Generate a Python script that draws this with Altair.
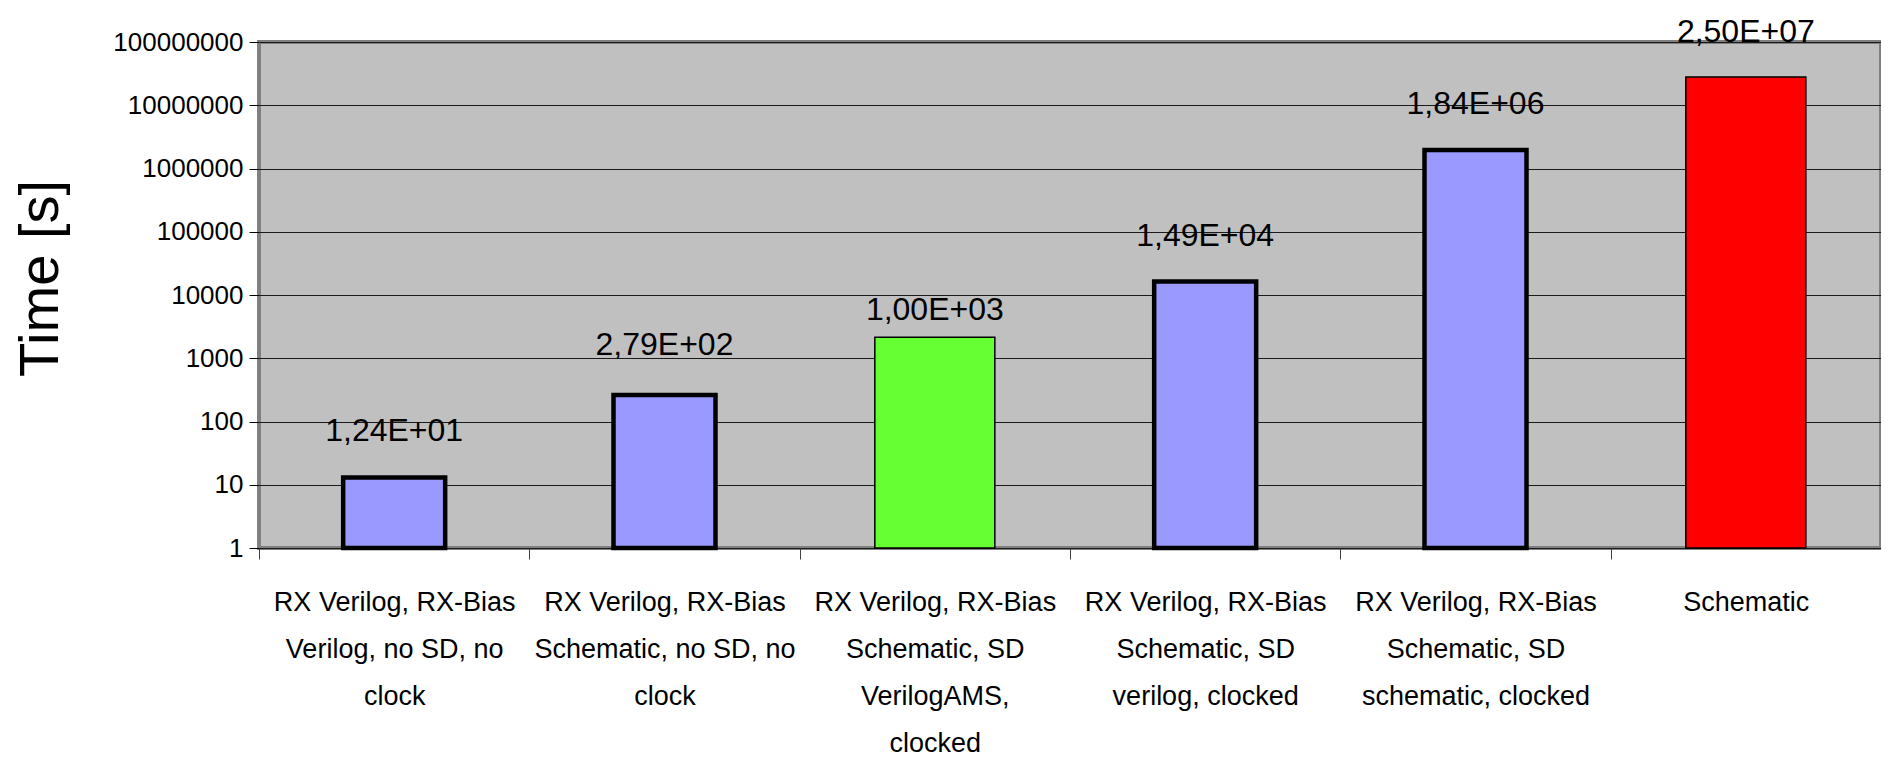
import altair as alt
import pandas as pd

categories = [
    "RX Verilog, RX-Bias|Verilog, no SD, no|clock",
    "RX Verilog, RX-Bias|Schematic, no SD, no|clock",
    "RX Verilog, RX-Bias|Schematic, SD|VerilogAMS,|clocked",
    "RX Verilog, RX-Bias|Schematic, SD|verilog, clocked",
    "RX Verilog, RX-Bias|Schematic, SD|schematic, clocked",
    "Schematic",
]
bar_times = [13, 263, 2140, 16400, 1.97e6, 2.8e7]
label_values = [12.4, 279, 1000, 14900, 1.84e6, 2.5e7]
label_texts = ["1,24E+01", "2,79E+02", "1,00E+03", "1,49E+04", "1,84E+06", "2,50E+07"]
kinds = ["Mixed", "Mixed", "VerilogAMS", "Mixed", "Mixed", "Schematic"]
y_ticks = [1, 10, 100, 1000, 10000, 100000, 1000000, 10000000, 100000000]

df = pd.DataFrame({
    "category": categories,
    "time": bar_times,
    "label_value": label_values,
    "label": label_texts,
    "kind": kinds,
})

FONT = "Liberation Sans"

x_enc = alt.X(
    "category:N",
    sort=categories,
    scale=alt.Scale(paddingInner=0, paddingOuter=0),
    axis=alt.Axis(
        title=None,
        labelExpr="split(datum.label, '|')",
        labelAngle=0,
        tickBand="extent",
        tickSize=11,
        tickColor="#404040",
        labelPadding=30,
        labelLineHeight=47,
        labelFontSize=27,
        labelFont=FONT,
        labelColor="black",
        labelBaseline="top",
        labelLimit=0,
        domain=False,
        grid=False,
    ),
)

y_scale = alt.Scale(type="log", domain=[1, 1e8], nice=False)

y_axis = alt.Axis(
    values=y_ticks,
    format="d",
    title="Time [s]",
    grid=True,
    gridColor="#1a1a1a",
    gridWidth=1,
    gridOpacity=1,
    tickSize=10,
    tickColor="black",
    labelFontSize=26,
    labelFont=FONT,
    labelColor="black",
    labelPadding=6,
    domain=False,
    titleFontSize=56,
    titleFont=FONT,
    titleFontWeight="normal",
    titleColor="black",
    titleAngle=270,
    titleBaseline="top",
    titleAlign="center",
    titleX=-246,
    titleY=236,
)

color_enc = alt.Color(
    "kind:N",
    scale=alt.Scale(domain=["Mixed", "VerilogAMS", "Schematic"],
                    range=["#9999FF", "#66FF33", "#FF0000"]),
    legend=None,
)

base = alt.Chart(df)

bars_thick = base.transform_filter(alt.datum.kind == "Mixed").mark_bar(
    size=102, stroke="black", strokeWidth=4.5
).encode(
    x=x_enc,
    y=alt.Y("time:Q", scale=y_scale, axis=y_axis),
    y2=alt.datum(1),
    color=color_enc,
)

bars_thin = base.transform_filter(alt.datum.kind != "Mixed").mark_bar(
    size=120, stroke="black", strokeWidth=1.5
).encode(
    x=x_enc,
    y=alt.Y("time:Q", scale=y_scale),
    y2=alt.datum(1),
    color=color_enc,
)

labels = base.mark_text(
    dy=-38, baseline="alphabetic", align="center", fontSize=32,
    font=FONT, color="black"
).encode(
    x=x_enc,
    y=alt.Y("label_value:Q", scale=y_scale),
    text="label:N",
)

chart = alt.layer(bars_thick, bars_thin, labels).properties(
    width=1622,
    height=506,
    autosize=alt.AutoSizeParams(type="none"),
    padding={"left": 251, "top": 34, "right": 0, "bottom": 211},
    background="white",
).configure_view(
    fill="#C0C0C0",
    stroke="#808080",
    strokeWidth=4,
)

chart.save("out.html", embed_options={"renderer": "svg", "actions": False})
